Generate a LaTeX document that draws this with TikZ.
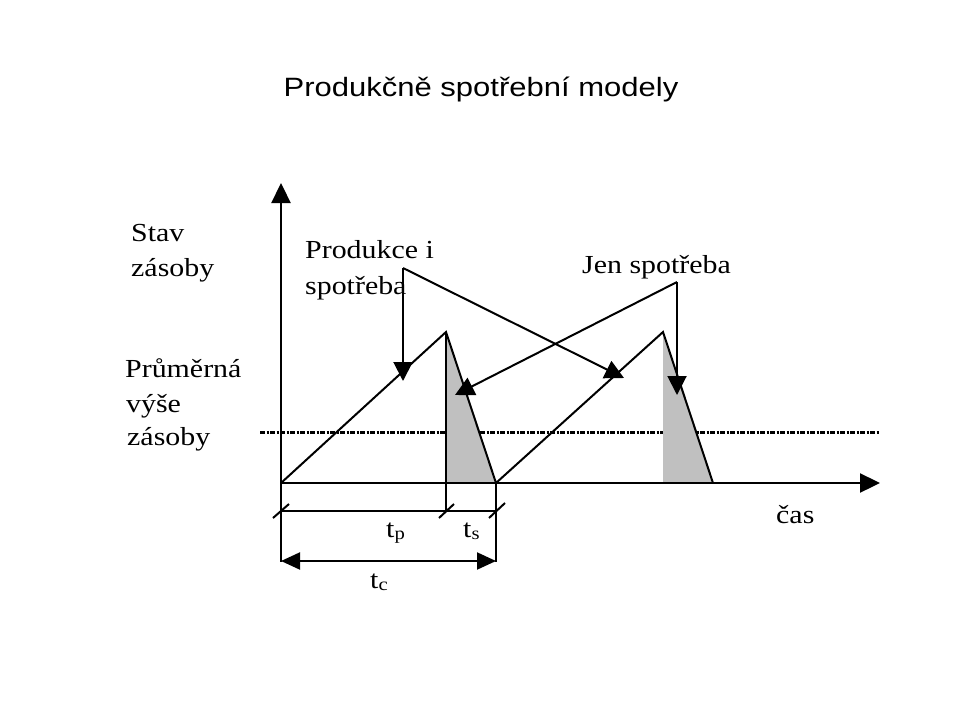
\documentclass[tikz,border=0pt]{standalone}
\usepackage{fontspec}
\setmainfont{Liberation Serif}[FakeStretch=1.15]
\newfontfamily\titlefont{Liberation Sans}[FakeStretch=1.17]
\usetikzlibrary{arrows.meta}
\definecolor{shadegray}{RGB}{192,192,192}
\newcommand{\subsc}[1]{\raisebox{-2pt}{\fontsize{18}{18}\selectfont #1}}
\begin{document}
\begin{tikzpicture}[x=1pt,y=-1pt,
  lbl/.style={anchor=base west, inner sep=0pt, font=\fontsize{26}{30}\selectfont},
  ttl/.style={anchor=base, inner sep=0pt, font=\titlefont\fontsize{26.5}{30}\selectfont},
  ln/.style={line width=2pt},
  axis/.style={line width=2.3pt, -{Triangle[length=20pt,width=19pt]}},
  tipline/.style={line width=2pt, -{Triangle[length=19pt,width=19pt]}},
  dim/.style={line width=2pt, {Triangle[length=19pt,width=17pt]}-{Triangle[length=19pt,width=17pt]}},
  avgline/.style={line width=3pt, dash pattern=on 5pt off 1.5pt on 2pt off 1.5pt},
  shade/.style={fill=shadegray}]
\useasboundingbox (0,0) rectangle (960,720);
\fill[white] (0,0) rectangle (960,720);
% key points
\coordinate (O) at (281,483);
\coordinate (Ytop) at (281,183);
\coordinate (Xend) at (880,483);
\coordinate (P1) at (446,332);
\coordinate (B1) at (496,483);
\coordinate (P2) at (663,332);
\coordinate (B2) at (713,483);
\coordinate (A1) at (403,268);
\coordinate (A1v) at (403,381);
\coordinate (A1d) at (624,378);
\coordinate (A2) at (677,282);
\coordinate (A2v) at (677,395);
\coordinate (A2d) at (455,395);
\coordinate (Dl) at (260,432);
\coordinate (Dr) at (880,432);
% average stock line
\draw[avgline] (Dl) -- (Dr);
% shaded consumption regions
\fill[shade] (P1) -- (B1) -- (446,483) -- cycle;
\fill[shade] (P2) -- (B2) -- (663,483) -- cycle;
% axes
\draw[axis] (O) -- (Ytop);
\draw[axis] (O) -- (Xend);
% sawtooth
\draw[ln, line join=miter] (O) -- (P1) -- (B1) -- (P2) -- (B2);
% pointer arrows
\draw[tipline] (A1) -- (A1v);
\draw[tipline] (A1) -- (A1d);
\draw[tipline] (A2) -- (A2v);
\draw[tipline] (A2) -- (A2d);
% dimension lines
\coordinate (E1a) at (281,483); \coordinate (E1b) at (281,562);
\coordinate (E2a) at (496,483); \coordinate (E2b) at (496,562);
\coordinate (E3a) at (446,332); \coordinate (E3b) at (446,511);
\coordinate (H1) at (281,511); \coordinate (H2) at (496,511);
\coordinate (M) at (446,511);
\coordinate (C1) at (281,561); \coordinate (C2) at (496,561);
\draw[ln] (E1a) -- (E1b);
\draw[ln] (E2a) -- (E2b);
\draw[ln] (E3a) -- (E3b);
\draw[ln] (H1) -- (H2);
\draw[ln] ([shift={(-8,7)}]H1) -- ([shift={(8,-7)}]H1);
\draw[ln] ([shift={(-7,7)}]M) -- ([shift={(8,-7)}]M);
\draw[ln] ([shift={(-7,7)}]H2) -- ([shift={(9,-8)}]H2);
\draw[dim] (C1) -- (C2);
% texts
\node[ttl] (title) at (481,96) {Produkčně spotřební modely};
\node[lbl] (stav1) at (131,241) {Stav};
\node[lbl] (stav2) at (131,276) {zásoby};
\node[lbl] (avg1) at (125,377) {Průměrná};
\node[lbl] (avg2) at (126,412) {výše};
\node[lbl] (avg3) at (127,445) {zásoby};
\node[lbl] (prod1) at (305,258) {Produkce i};
\node[lbl] (prod2) at (305,294) {spotřeba};
\node[lbl] (jen) at (582,273) {Jen spotřeba};
\node[lbl] (cas) at (776,523) {čas};
\node[lbl] (tp) at (386,537) {t\subsc{p}};
\node[lbl] (ts) at (463,537) {t\subsc{s}};
\node[lbl] (tc) at (370,588) {t\subsc{c}};
\end{tikzpicture}
\end{document}
